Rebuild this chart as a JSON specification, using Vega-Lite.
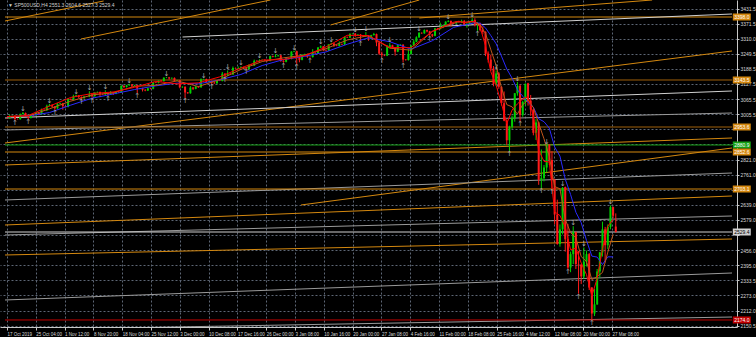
{
"$schema":"https://vega.github.io/schema/vega-lite/v6.json",
"width":737,"height":327,"autosize":"none",
"padding":{"left":0,"top":0,"right":19,"bottom":10},
"background":"#000000",
"config":{"view":{"stroke":null},"font":"Liberation Sans",
 "axis":{"labelOverlap":false,"labelSeparation":0,"labelFlush":false,"labelFontSize":5,"labelFont":"Liberation Sans","labelColor":"#d8d8d8",
  "grid":true,"gridColor":"#5d6675","gridDash":[2,2],"domainColor":"#c8c8c8","tickColor":"#c8c8c8","labelAlign":"left","labelPadding":1},
 "axisX":{"tickSize":3,"labelFontSize":4.5},"axisY":{"tickSize":2}},
"resolve":{"axis":{"x":"independent","y":"independent"}},
"datasets":{
"candles":[
{"n":0,"o":2990,"h":2992,"l":2988,"c":2989},{"n":0.5,"o":2989,"h":3004,"l":2987,"c":2998},
{"n":1,"o":2998,"h":3000,"l":2996,"c":2999},{"n":1.5,"o":2999,"h":3001,"l":2980,"c":2986},
{"n":2,"o":2986,"h":2988,"l":2984,"c":2985},{"n":2.5,"o":2985,"h":3008,"l":2983,"c":3006},
{"n":3,"o":3006,"h":3014,"l":3004,"c":3010},{"n":3.5,"o":3010,"h":3012,"l":2994,"c":2995},
{"n":4,"o":2995,"h":2997,"l":2986,"c":2990},{"n":4.5,"o":2990,"h":3005,"l":2988,"c":3004},
{"n":5,"o":3004,"h":3006,"l":2999,"c":3001},{"n":5.5,"o":3001,"h":3016,"l":2999,"c":3010},
{"n":6,"o":3010,"h":3012,"l":3001,"c":3005},{"n":6.5,"o":3005,"h":3028,"l":3003,"c":3023},
{"n":7,"o":3023,"h":3025,"l":3020,"c":3021},{"n":7.5,"o":3021,"h":3044,"l":3019,"c":3039},
{"n":8,"o":3039,"h":3047,"l":3037,"c":3043},{"n":8.5,"o":3043,"h":3045,"l":3033,"c":3036},
{"n":9,"o":3036,"h":3038,"l":3023,"c":3029},{"n":9.5,"o":3029,"h":3050,"l":3027,"c":3047},
{"n":10,"o":3047,"h":3052,"l":3045,"c":3049},{"n":10.5,"o":3049,"h":3051,"l":3023,"c":3038},
{"n":11,"o":3038,"h":3040,"l":3033,"c":3035},{"n":11.5,"o":3035,"h":3069,"l":3033,"c":3067},
{"n":12,"o":3067,"h":3069,"l":3062,"c":3064},{"n":12.5,"o":3064,"h":3084,"l":3062,"c":3078},
{"n":13,"o":3078,"h":3084,"l":3076,"c":3081},{"n":13.5,"o":3081,"h":3083,"l":3070,"c":3075},
{"n":14,"o":3075,"h":3077,"l":3065,"c":3070},{"n":14.5,"o":3070,"h":3078,"l":3068,"c":3077},
{"n":15,"o":3077,"h":3079,"l":3075,"c":3076},{"n":15.5,"o":3076,"h":3098,"l":3074,"c":3085},
{"n":16,"o":3085,"h":3087,"l":3072,"c":3078},{"n":16.5,"o":3078,"h":3094,"l":3076,"c":3093},
{"n":17,"o":3093,"h":3097,"l":3091,"c":3095},{"n":17.5,"o":3095,"h":3097,"l":3074,"c":3087},
{"n":18,"o":3087,"h":3089,"l":3084,"c":3085},{"n":18.5,"o":3085,"h":3102,"l":3083,"c":3091},
{"n":19,"o":3091,"h":3093,"l":3079,"c":3085},{"n":19.5,"o":3085,"h":3099,"l":3083,"c":3094},
{"n":20,"o":3094,"h":3096,"l":3083,"c":3088},{"n":20.5,"o":3088,"h":3098,"l":3086,"c":3096},
{"n":21,"o":3096,"h":3098,"l":3092,"c":3094},{"n":21.5,"o":3094,"h":3122,"l":3092,"c":3120},
{"n":22,"o":3120,"h":3122,"l":3110,"c":3115},{"n":22.5,"o":3115,"h":3124,"l":3113,"c":3122},
{"n":23,"o":3122,"h":3128,"l":3120,"c":3125},{"n":23.5,"o":3125,"h":3127,"l":3113,"c":3120},
{"n":24,"o":3120,"h":3124,"l":3118,"c":3122},{"n":24.5,"o":3122,"h":3124,"l":3091,"c":3108},
{"n":25,"o":3108,"h":3112,"l":3106,"c":3110},{"n":25.5,"o":3110,"h":3112,"l":3097,"c":3104},
{"n":26,"o":3104,"h":3106,"l":3098,"c":3101},{"n":26.5,"o":3101,"h":3112,"l":3099,"c":3110},
{"n":27,"o":3110,"h":3112,"l":3106,"c":3108},{"n":27.5,"o":3108,"h":3136,"l":3106,"c":3134},
{"n":28,"o":3134,"h":3136,"l":3131,"c":3132},{"n":28.5,"o":3132,"h":3142,"l":3130,"c":3141},
{"n":29,"o":3141,"h":3143,"l":3137,"c":3139},{"n":29.5,"o":3139,"h":3154,"l":3137,"c":3153},
{"n":30,"o":3153,"h":3156,"l":3151,"c":3154},{"n":30.5,"o":3154,"h":3156,"l":3145,"c":3150},
{"n":31,"o":3150,"h":3154,"l":3148,"c":3152},{"n":31.5,"o":3152,"h":3154,"l":3138,"c":3141},
{"n":32,"o":3141,"h":3144,"l":3139,"c":3142},{"n":32.5,"o":3142,"h":3144,"l":3110,"c":3114},
{"n":33,"o":3114,"h":3118,"l":3112,"c":3116},{"n":33.5,"o":3116,"h":3118,"l":3070,"c":3093},
{"n":34,"o":3093,"h":3095,"l":3088,"c":3090},{"n":34.5,"o":3090,"h":3119,"l":3088,"c":3113},
{"n":35,"o":3113,"h":3115,"l":3103,"c":3108},{"n":35.5,"o":3108,"h":3119,"l":3106,"c":3117},
{"n":36,"o":3117,"h":3119,"l":3112,"c":3114},{"n":36.5,"o":3114,"h":3150,"l":3112,"c":3146},
{"n":37,"o":3146,"h":3149,"l":3144,"c":3147},{"n":37.5,"o":3147,"h":3149,"l":3133,"c":3136},
{"n":38,"o":3136,"h":3142,"l":3134,"c":3139},{"n":38.5,"o":3139,"h":3141,"l":3126,"c":3133},
{"n":39,"o":3133,"h":3135,"l":3128,"c":3130},{"n":39.5,"o":3130,"h":3143,"l":3128,"c":3142},
{"n":40,"o":3142,"h":3144,"l":3139,"c":3140},{"n":40.5,"o":3140,"h":3176,"l":3138,"c":3169},
{"n":41,"o":3169,"h":3171,"l":3156,"c":3162},{"n":41.5,"o":3162,"h":3182,"l":3160,"c":3169},
{"n":42,"o":3169,"h":3171,"l":3164,"c":3166},{"n":42.5,"o":3166,"h":3198,"l":3164,"c":3192},
{"n":43,"o":3192,"h":3194,"l":3189,"c":3190},{"n":43.5,"o":3190,"h":3198,"l":3188,"c":3192},
{"n":44,"o":3192,"h":3199,"l":3190,"c":3195},{"n":44.5,"o":3195,"h":3197,"l":3189,"c":3191},
{"n":45,"o":3191,"h":3193,"l":3186,"c":3188},{"n":45.5,"o":3188,"h":3206,"l":3186,"c":3205},
{"n":46,"o":3205,"h":3207,"l":3200,"c":3202},{"n":46.5,"o":3202,"h":3226,"l":3200,"c":3221},
{"n":47,"o":3221,"h":3223,"l":3218,"c":3219},{"n":47.5,"o":3219,"h":3227,"l":3217,"c":3224},
{"n":48,"o":3224,"h":3226,"l":3222,"c":3225},{"n":48.5,"o":3225,"h":3227,"l":3220,"c":3223},
{"n":49,"o":3223,"h":3225,"l":3219,"c":3221},{"n":49.5,"o":3221,"h":3242,"l":3219,"c":3240},
{"n":50,"o":3240,"h":3242,"l":3235,"c":3237},{"n":50.5,"o":3237,"h":3248,"l":3235,"c":3240},
{"n":51,"o":3240,"h":3245,"l":3238,"c":3243},{"n":51.5,"o":3243,"h":3245,"l":3217,"c":3221},
{"n":52,"o":3221,"h":3223,"l":3213,"c":3217},{"n":52.5,"o":3217,"h":3232,"l":3215,"c":3231},
{"n":53,"o":3231,"h":3233,"l":3227,"c":3229},{"n":53.5,"o":3229,"h":3260,"l":3227,"c":3258},
{"n":54,"o":3258,"h":3262,"l":3256,"c":3260},{"n":54.5,"o":3260,"h":3262,"l":3207,"c":3235},
{"n":55,"o":3235,"h":3237,"l":3215,"c":3225},{"n":55.5,"o":3225,"h":3247,"l":3223,"c":3246},
{"n":56,"o":3246,"h":3250,"l":3244,"c":3248},{"n":56.5,"o":3248,"h":3250,"l":3233,"c":3237},
{"n":57,"o":3237,"h":3239,"l":3234,"c":3236},{"n":57.5,"o":3236,"h":3268,"l":3234,"c":3253},
{"n":58,"o":3253,"h":3255,"l":3249,"c":3251},{"n":58.5,"o":3251,"h":3276,"l":3249,"c":3275},
{"n":59,"o":3275,"h":3283,"l":3273,"c":3279},{"n":59.5,"o":3279,"h":3281,"l":3260,"c":3265},
{"n":60,"o":3265,"h":3267,"l":3261,"c":3263},{"n":60.5,"o":3263,"h":3289,"l":3261,"c":3288},
{"n":61,"o":3288,"h":3294,"l":3286,"c":3291},{"n":61.5,"o":3291,"h":3293,"l":3277,"c":3283},
{"n":62,"o":3283,"h":3285,"l":3280,"c":3281},{"n":62.5,"o":3281,"h":3299,"l":3279,"c":3289},
{"n":63,"o":3289,"h":3291,"l":3285,"c":3287},{"n":63.5,"o":3287,"h":3319,"l":3285,"c":3317},
{"n":64,"o":3317,"h":3319,"l":3313,"c":3315},{"n":64.5,"o":3315,"h":3332,"l":3313,"c":3330},
{"n":65,"o":3330,"h":3332,"l":3328,"c":3331},{"n":65.5,"o":3331,"h":3333,"l":3318,"c":3325},
{"n":66,"o":3325,"h":3329,"l":3323,"c":3327},{"n":66.5,"o":3327,"h":3329,"l":3301,"c":3321},
{"n":67,"o":3321,"h":3323,"l":3318,"c":3320},{"n":67.5,"o":3320,"h":3337,"l":3318,"c":3321},
{"n":68,"o":3321,"h":3323,"l":3302,"c":3311},{"n":68.5,"o":3311,"h":3326,"l":3309,"c":3325},
{"n":69,"o":3325,"h":3334,"l":3323,"c":3329},{"n":69.5,"o":3329,"h":3331,"l":3280,"c":3295},
{"n":70,"o":3295,"h":3297,"l":3245,"c":3250},{"n":70.5,"o":3250,"h":3258,"l":3234,"c":3244},
{"n":71,"o":3244,"h":3246,"l":3240,"c":3242},{"n":71.5,"o":3242,"h":3285,"l":3240,"c":3276},
{"n":72,"o":3276,"h":3293,"l":3274,"c":3284},{"n":72.5,"o":3284,"h":3286,"l":3271,"c":3273},
{"n":73,"o":3273,"h":3275,"l":3242,"c":3258},{"n":73.5,"o":3258,"h":3285,"l":3256,"c":3284},
{"n":74,"o":3284,"h":3288,"l":3282,"c":3286},{"n":74.5,"o":3286,"h":3288,"l":3214,"c":3226},
{"n":75,"o":3226,"h":3228,"l":3222,"c":3224},{"n":75.5,"o":3224,"h":3268,"l":3222,"c":3249},
{"n":76,"o":3249,"h":3285,"l":3247,"c":3282},{"n":76.5,"o":3282,"h":3306,"l":3280,"c":3298},
{"n":77,"o":3298,"h":3320,"l":3296,"c":3316},{"n":77.5,"o":3316,"h":3337,"l":3313,"c":3334},
{"n":78,"o":3334,"h":3336,"l":3330,"c":3332},{"n":78.5,"o":3332,"h":3348,"l":3330,"c":3345},
{"n":79,"o":3345,"h":3347,"l":3336,"c":3340},{"n":79.5,"o":3340,"h":3342,"l":3322,"c":3328},
{"n":80,"o":3328,"h":3330,"l":3317,"c":3322},{"n":80.5,"o":3322,"h":3354,"l":3320,"c":3352},
{"n":81,"o":3352,"h":3354,"l":3348,"c":3350},{"n":81.5,"o":3350,"h":3375,"l":3348,"c":3357},
{"n":82,"o":3357,"h":3366,"l":3353,"c":3364},{"n":82.5,"o":3364,"h":3381,"l":3362,"c":3379},
{"n":83,"o":3379,"h":3385,"l":3377,"c":3382},{"n":83.5,"o":3382,"h":3384,"l":3360,"c":3374},
{"n":84,"o":3374,"h":3376,"l":3370,"c":3372},{"n":84.5,"o":3372,"h":3381,"l":3370,"c":3380},
{"n":85,"o":3380,"h":3382,"l":3375,"c":3377},{"n":85.5,"o":3377,"h":3387,"l":3375,"c":3382},
{"n":86,"o":3382,"h":3386,"l":3366,"c":3368},{"n":86.5,"o":3368,"h":3375,"l":3355,"c":3370},
{"n":87,"o":3370,"h":3380,"l":3368,"c":3378},{"n":87.5,"o":3378,"h":3393,"l":3376,"c":3386},
{"n":88,"o":3386,"h":3393,"l":3360,"c":3365},{"n":88.5,"o":3365,"h":3378,"l":3342,"c":3373},
{"n":89,"o":3373,"h":3375,"l":3340,"c":3345},{"n":89.5,"o":3345,"h":3360,"l":3328,"c":3338},
{"n":90,"o":3338,"h":3340,"l":3240,"c":3250},{"n":90.5,"o":3250,"h":3259,"l":3214,"c":3226},
{"n":91,"o":3226,"h":3246,"l":3180,"c":3190},{"n":91.5,"o":3190,"h":3200,"l":3118,"c":3128},
{"n":92,"o":3128,"h":3182,"l":3120,"c":3170},{"n":92.5,"o":3170,"h":3175,"l":3108,"c":3116},
{"n":93,"o":3116,"h":3118,"l":3040,"c":3050},{"n":93.5,"o":3050,"h":3097,"l":2977,"c":2979},
{"n":94,"o":2979,"h":2985,"l":2880,"c":2900},{"n":94.5,"o":2900,"h":2959,"l":2855,"c":2954},
{"n":95,"o":2954,"h":3000,"l":2946,"c":2990},{"n":95.5,"o":2990,"h":3091,"l":2975,"c":3090},
{"n":96,"o":3090,"h":3136,"l":3080,"c":3120},{"n":96.5,"o":3120,"h":3125,"l":2976,"c":3003},
{"n":97,"o":3003,"h":3060,"l":2995,"c":3055},{"n":97.5,"o":3055,"h":3130,"l":3040,"c":3128},
{"n":98,"o":3130,"h":3132,"l":3040,"c":3060},{"n":98.5,"o":3060,"h":3083,"l":2999,"c":3024},
{"n":99,"o":3024,"h":3026,"l":2920,"c":2930},{"n":99.5,"o":2930,"h":2985,"l":2901,"c":2972},
{"n":100,"o":2972,"h":2975,"l":2720,"c":2740},{"n":100.5,"o":2740,"h":2863,"l":2707,"c":2747},
{"n":101,"o":2747,"h":2800,"l":2734,"c":2790},{"n":101.5,"o":2790,"h":2883,"l":2770,"c":2882},
{"n":102,"o":2882,"h":2884,"l":2800,"c":2820},{"n":102.5,"o":2820,"h":2856,"l":2705,"c":2741},
{"n":103,"o":2741,"h":2743,"l":2560,"c":2600},{"n":103.5,"o":2600,"h":2660,"l":2478,"c":2481},
{"n":104,"o":2481,"h":2560,"l":2470,"c":2540},{"n":104.5,"o":2540,"h":2711,"l":2520,"c":2708},
{"n":105,"o":2711,"h":2713,"l":2450,"c":2500},{"n":105.5,"o":2500,"h":2562,"l":2380,"c":2386},
{"n":106,"o":2386,"h":2450,"l":2367,"c":2440},{"n":106.5,"o":2440,"h":2553,"l":2400,"c":2529},
{"n":107,"o":2529,"h":2531,"l":2380,"c":2400},{"n":107.5,"o":2400,"h":2453,"l":2280,"c":2398},
{"n":108,"o":2398,"h":2400,"l":2319,"c":2350},{"n":108.5,"o":2350,"h":2467,"l":2340,"c":2409},
{"n":109,"o":2409,"h":2454,"l":2390,"c":2440},{"n":109.5,"o":2440,"h":2445,"l":2295,"c":2305},
{"n":110,"o":2305,"h":2307,"l":2174,"c":2200},{"n":110.5,"o":2200,"h":2300,"l":2190,"c":2237},
{"n":111,"o":2237,"h":2380,"l":2235,"c":2370},{"n":111.5,"o":2370,"h":2449,"l":2345,"c":2447},
{"n":112,"o":2447,"h":2571,"l":2430,"c":2540},{"n":112.5,"o":2540,"h":2550,"l":2407,"c":2476},
{"n":113,"o":2476,"h":2560,"l":2460,"c":2550},{"n":113.5,"o":2550,"h":2637,"l":2540,"c":2630},
{"n":114,"o":2630,"h":2632,"l":2585,"c":2595},{"n":114.5,"o":2551.3,"h":2604.6,"l":2527.3,"c":2529.4}
],
"ma":[
{"n":0,"r":2996,"o":2995,"b":2995},{"n":4,"r":3000,"o":2998,"b":2998},{"n":8,"r":3038,"o":3027,"b":3012},
{"n":12,"r":3073,"o":3058,"b":3042},{"n":16,"r":3089,"o":3083,"b":3070},{"n":20,"r":3095,"o":3092,"b":3087},
{"n":24,"r":3114,"o":3118,"b":3105},{"n":28,"r":3138,"o":3122,"b":3120},{"n":32,"r":3128,"o":3140,"b":3131},
{"n":36,"r":3132,"o":3117,"b":3128},{"n":40,"r":3156,"o":3145,"b":3144},{"n":44,"r":3192,"o":3186,"b":3166},
{"n":48,"r":3224,"o":3218,"b":3202},{"n":52,"r":3226,"o":3233,"b":3226},{"n":56,"r":3242,"o":3244,"b":3239},
{"n":60,"r":3277,"o":3270,"b":3257},{"n":64,"r":3324,"o":3305,"b":3288},{"n":68,"r":3323,"o":3323,"b":3314},
{"n":72,"r":3275,"o":3272,"b":3298},{"n":76,"r":3274,"o":3264,"b":3268},{"n":80,"r":3340,"o":3340,"b":3302},
{"n":84,"r":3377,"o":3373,"b":3356},{"n":85,"r":3381,"o":3379,"b":3361},{"n":86,"r":3375,"o":3376,"b":3365},
{"n":87,"r":3378,"o":3380,"b":3370},{"n":88,"r":3380,"o":3378,"b":3375},{"n":89,"r":3356,"o":3367,"b":3373},
{"n":90,"r":3282,"o":3331,"b":3354},{"n":91,"r":3177,"o":3266,"b":3323},{"n":92,"r":3122,"o":3202,"b":3290},
{"n":93,"r":3048,"o":3112,"b":3240},{"n":94,"r":2967,"o":3044,"b":3188},{"n":95,"r":3022,"o":3035,"b":3151},
{"n":96,"r":3047,"o":3006,"b":3104},{"n":97,"r":3067,"o":3044,"b":3078},{"n":98,"r":3077,"o":3062,"b":3053},
{"n":99,"r":2998,"o":3032,"b":3034},{"n":100,"r":2860,"o":2968,"b":2987},{"n":101,"r":2815,"o":2906,"b":2975},
{"n":102,"r":2812,"o":2835,"b":2949},{"n":103,"r":2611,"o":2713,"b":2873},{"n":104,"r":2596,"o":2704,"b":2836},
{"n":105,"r":2549,"o":2580,"b":2743},{"n":106,"r":2458,"o":2527,"b":2681},{"n":107,"r":2464,"o":2506,"b":2609},
{"n":108,"r":2404,"o":2430,"b":2567},{"n":109,"r":2357,"o":2410,"b":2495},{"n":110,"r":2271,"o":2337,"b":2432},
{"n":111,"r":2342,"o":2349,"b":2428},{"n":112,"r":2462,"o":2366,"b":2398},{"n":113,"r":2553,"o":2448,"b":2429},
{"n":114,"r":2580,"o":2520,"b":2429}
],
"fr":[
{"n":3,"p":3026,"s":"↓"},{"n":8,"p":3059,"s":"↓"},{"n":13,"p":3096,"s":"↓"},{"n":15.5,"p":3110,"s":"↓"},{"n":18.5,"p":3114,"s":"↓"},
{"n":23,"p":3140,"s":"↓"},{"n":30,"p":3168,"s":"↓"},{"n":37,"p":3161,"s":"↓"},{"n":41.5,"p":3194,"s":"↓"},{"n":44,"p":3211,"s":"↓"},
{"n":47.5,"p":3239,"s":"↓"},{"n":50.5,"p":3260,"s":"↓"},{"n":54,"p":3274,"s":"↓"},{"n":59,"p":3295,"s":"↓"},{"n":61,"p":3306,"s":"↓"},
{"n":65.5,"p":3345,"s":"↓"},{"n":67.5,"p":3349,"s":"↓"},{"n":72,"p":3305,"s":"↓"},{"n":77.5,"p":3349,"s":"↓"},{"n":83,"p":3397,"s":"↓"},
{"n":87.5,"p":3405,"s":"↓"},{"n":92,"p":3194,"s":"↓"},{"n":96,"p":3148,"s":"↓"},{"n":101.5,"p":2895,"s":"↓"},{"n":104.5,"p":2723,"s":"↓"},
{"n":106.5,"p":2565,"s":"↓"},{"n":108.5,"p":2479,"s":"↓"},{"n":113.5,"p":2649,"s":"↓"},
{"n":1.5,"p":2968,"s":"↑"},{"n":4,"p":2974,"s":"↑"},{"n":9,"p":3011,"s":"↑"},{"n":14,"p":3053,"s":"↑"},{"n":16,"p":3060,"s":"↑"},
{"n":19,"p":3067,"s":"↑"},{"n":24.5,"p":3079,"s":"↑"},{"n":33.5,"p":3058,"s":"↑"},{"n":38.5,"p":3114,"s":"↑"},{"n":41,"p":3144,"s":"↑"},
{"n":45,"p":3174,"s":"↑"},{"n":52,"p":3201,"s":"↑"},{"n":54.5,"p":3195,"s":"↑"},{"n":57,"p":3222,"s":"↑"},{"n":66.5,"p":3289,"s":"↑"},
{"n":70.5,"p":3222,"s":"↑"},{"n":74.5,"p":3202,"s":"↑"},{"n":79.5,"p":3310,"s":"↑"},{"n":88.5,"p":3330,"s":"↑"},{"n":94.5,"p":2843,"s":"↑"},
{"n":96.5,"p":2964,"s":"↑"},{"n":100.5,"p":2695,"s":"↑"},{"n":102.5,"p":2693,"s":"↑"},{"n":105.5,"p":2368,"s":"↑"},{"n":107.5,"p":2268,"s":"↑"},
{"n":110,"p":2162,"s":"↑"}
],
"lines":[
{"x1":-0.371,"y1":3381.9,"x2":18.18,"y2":3462.7,"k":"or"},
{"x1":13.92,"y1":3309.1,"x2":49.54,"y2":3466.7,"k":"or"},
{"x1":-0.371,"y1":2889.0,"x2":136.36,"y2":3260.7,"k":"or"},
{"x1":-0.371,"y1":3398.0,"x2":136.36,"y2":3398.0,"k":"or"},
{"x1":-0.371,"y1":3143.5,"x2":136.36,"y2":3143.5,"k":"br"},
{"x1":33.02,"y1":3317.2,"x2":136.36,"y2":3410.1,"k":"wh"},
{"x1":60.85,"y1":3365.7,"x2":77.55,"y2":3466.7,"k":"or"},
{"x1":77.55,"y1":3394.0,"x2":121.34,"y2":3466.7,"k":"or"},
{"x1":-0.371,"y1":2990.0,"x2":136.36,"y2":3099.1,"k":"wh"},
{"x1":-0.371,"y1":2941.5,"x2":136.36,"y2":3010.2,"k":"gr"},
{"x1":-0.371,"y1":2953.6,"x2":136.36,"y2":2953.6,"k":"br"},
{"x1":-0.371,"y1":2800.1,"x2":136.36,"y2":2909.2,"k":"or"},
{"x1":-0.371,"y1":2880.9,"x2":136.36,"y2":2880.9,"k":"gn"},
{"x1":-0.371,"y1":2852.6,"x2":136.36,"y2":2852.6,"k":"or"},
{"x1":55.29,"y1":2638.5,"x2":136.36,"y2":2868.8,"k":"or"},
{"x1":-0.371,"y1":2658.7,"x2":136.36,"y2":2767.8,"k":"gr"},
{"x1":-0.371,"y1":2703.1,"x2":136.36,"y2":2703.1,"k":"or"},
{"x1":-0.371,"y1":2557.7,"x2":136.36,"y2":2674.9,"k":"or"},
{"x1":-0.371,"y1":2517.3,"x2":136.36,"y2":2594.1,"k":"gr"},
{"x1":-0.371,"y1":2529.4,"x2":136.36,"y2":2529.4,"k":"wh"},
{"x1":-0.371,"y1":2436.5,"x2":136.36,"y2":2501.1,"k":"or"},
{"x1":-0.371,"y1":2254.7,"x2":136.36,"y2":2363.8,"k":"gr"},
{"x1":-0.371,"y1":2133.4,"x2":136.36,"y2":2186.0,"k":"gr"},
{"x1":-0.371,"y1":2174.0,"x2":136.36,"y2":2174.0,"k":"rd"}
],
"hl":[
{"p":3398.0,"t":"3398.0","k":"or"},{"p":3143.5,"t":"3143.5","k":"or"},{"p":2953.6,"t":"2953.6","k":"or"},
{"p":2880.9,"t":"2880.9","k":"gn"},{"p":2852.6,"t":"2852.6","k":"or"},{"p":2703.1,"t":"2703.1","k":"or"},
{"p":2529.4,"t":"2529.4","k":"wh"},{"p":2174.0,"t":"2174.0","k":"rd"}
],
"head":[{"t":"▼ SP500USD,H4  2551.3 2604.6 2527.3 2529.4"}]
},
"layer":[
{"data":{"name":"lines"},
 "mark":{"type":"rule","clip":true,"strokeWidth":1},
 "encoding":{
  "x":{"field":"x1","type":"quantitative","title":null,"scale":{"domain":[-0.371,136.36],"nice":false,"zero":false},
   "axis":{"orient":"bottom","values":[0,5.4175,10.835,16.2525,21.67,27.0875,32.505,37.9225,43.34,48.7575,54.175,59.5925,65.01,70.4275,75.845,81.2625,86.68,92.0975,97.515,102.9325,108.35,113.7675],
    "labelExpr":"['17 Oct 2019','25 Oct 04:00','1 Nov 12:00','8 Nov 20:00','18 Nov 04:00','25 Nov 12:00','3 Dec 00:00','10 Dec 08:00','17 Dec 16:00','26 Dec 00:00','3 Jan 08:00','10 Jan 16:00','20 Jan 00:00','27 Jan 08:00','4 Feb 16:00','11 Feb 00:00','18 Feb 08:00','25 Feb 16:00','4 Mar 12:00','12 Mar 08:00','20 Mar 00:00','27 Mar 08:00'][round(datum.value/5.4175)]",
    "labelOverlap":false,"title":null}},
  "x2":{"field":"x2"},
  "y":{"field":"y1","type":"quantitative","title":null,"scale":{"domain":[2145.6,3466.7],"nice":false,"zero":false},
   "axis":{"orient":"right","values":[3431.5,3371.5,3310.0,3249.5,3188.5,3127.5,3065.5,3005.5,2944.0,2883.0,2821.0,2761.0,2700.0,2639.0,2579.0,2518.0,2456.0,2395.0,2333.5,2273.0,2212.0,2150.5],
    "labelExpr":"indexof([2944, 2883, 2700, 2518], datum.value) >= 0 ? '' : format(datum.value, '.1f')",
    "labelOverlap":false,"title":null}},
  "y2":{"field":"y2"},
  "color":{"field":"k","type":"nominal","legend":null,
   "scale":{"domain":["or","br","wh","gr","gn","rd"],"range":["#d4880f","#a0600a","#d0d0d0","#9a9a9a","#14a014","#c00000"]}}
 }},
{"data":{"name":"candles"},
 "mark":{"type":"rule","clip":true,"strokeWidth":1},
 "encoding":{
  "x":{"field":"n","type":"quantitative","axis":null},
  "y":{"field":"l","type":"quantitative","axis":null},
  "y2":{"field":"h"},
  "color":{"condition":{"test":"datum.c >= datum.o","value":"#00d000"},"value":"#ff1a1a"}
 }},
{"data":{"name":"candles"},
 "mark":{"type":"bar","clip":true,"width":2},
 "encoding":{
  "x":{"field":"n","type":"quantitative","axis":null},
  "y":{"field":"o","type":"quantitative","axis":null},
  "y2":{"field":"c"},
  "color":{"condition":{"test":"datum.c >= datum.o","value":"#00d000"},"value":"#ff1a1a"}
 }},
{"data":{"name":"ma"},
 "mark":{"type":"line","clip":true,"strokeWidth":1,"color":"#2a2aff"},
 "encoding":{"x":{"field":"n","type":"quantitative","axis":null},"y":{"field":"b","type":"quantitative","axis":null}}},
{"data":{"name":"ma"},
 "mark":{"type":"line","clip":true,"strokeWidth":1,"color":"#c0561a"},
 "encoding":{"x":{"field":"n","type":"quantitative","axis":null},"y":{"field":"o","type":"quantitative","axis":null}}},
{"data":{"name":"ma"},
 "mark":{"type":"line","clip":true,"strokeWidth":1,"color":"#ff0000"},
 "encoding":{"x":{"field":"n","type":"quantitative","axis":null},"y":{"field":"r","type":"quantitative","axis":null}}},
{"data":{"name":"fr"},
 "mark":{"type":"text","clip":true,"fontSize":7,"font":"DejaVu Sans","align":"center","baseline":"middle","color":"#a8a8a8"},
 "encoding":{"x":{"field":"n","type":"quantitative","axis":null},"y":{"field":"p","type":"quantitative","axis":null},"text":{"field":"s"}}},
{"data":{"name":"hl"},
 "mark":{"type":"tick","orient":"horizontal","size":18,"thickness":7,"opacity":1},
 "encoding":{"x":{"datum":138.2,"type":"quantitative","axis":null},"y":{"field":"p","type":"quantitative","axis":null},
  "color":{"field":"k","type":"nominal","legend":null,
   "scale":{"domain":["or","br","wh","gr","gn","rd"],"range":["#e89a10","#a0600a","#e8e8e8","#9a9a9a","#1c8c1c","#e00000"]}}}},
{"data":{"name":"hl"},
 "mark":{"type":"text","fontSize":5,"align":"center","baseline":"middle"},
 "encoding":{"x":{"datum":138.2,"type":"quantitative","axis":null},"y":{"field":"p","type":"quantitative","axis":null},"text":{"field":"t"},
  "color":{"condition":{"test":"datum.k == 'wh'","value":"#000000"},"value":"#ffffff"}}},
{"data":{"name":"head"},
 "mark":{"type":"text","fontSize":5,"align":"left","baseline":"middle","color":"#d0d0d0"},
 "encoding":{"x":{"datum":0.2,"type":"quantitative","axis":null},"y":{"datum":3446.5,"type":"quantitative","axis":null},"text":{"field":"t"}}}
]
}
